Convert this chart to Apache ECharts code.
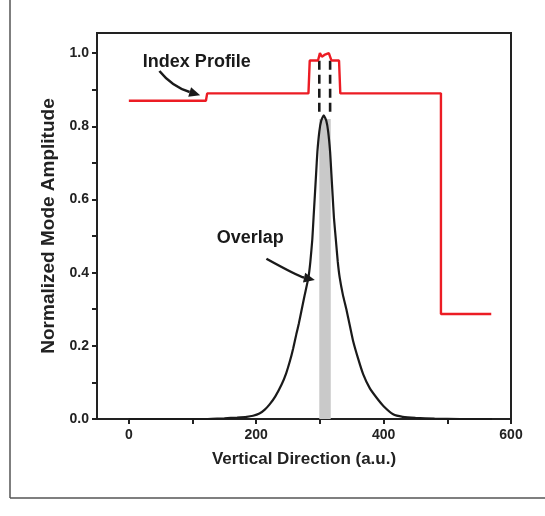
<!DOCTYPE html>
<html><head><meta charset="utf-8">
<script src="https://cdn.jsdelivr.net/npm/echarts@6/dist/echarts.min.js"></script>
<style>html,body{margin:0;padding:0;background:#fff}#c{width:545px;height:516px}</style>
</head><body><div id="c"></div>
<script>
// Index profile (red)
const profileX = [0, 121, 123, 282, 284, 297, 300, 303, 307, 310, 314, 318, 330, 332, 490, 490, 569];
const profileY = [0.87, 0.87, 0.89, 0.89, 0.98, 0.98, 1.0, 0.99, 0.995, 0.99, 1.0, 0.98, 0.98, 0.89, 0.89, 0.287, 0.287];
// Mode amplitude (black)
const modeX = [0, 120, 150, 170, 185, 195, 205, 213, 221, 230, 240, 247, 253, 258, 263, 267, 271, 276, 282, 285, 288, 290, 292, 294, 296, 299, 302, 306,
  310, 313, 316, 318, 320, 322, 325, 328, 331, 336, 342, 347, 352, 360, 368, 378, 389, 400, 415, 430, 450, 480, 520, 570];
const modeY = [0, 0, 0.002, 0.004, 0.006, 0.009, 0.015, 0.025, 0.04, 0.062, 0.095, 0.125, 0.159, 0.193, 0.232, 0.262, 0.296, 0.338, 0.387, 0.43, 0.49, 0.55, 0.61, 0.67, 0.73, 0.785, 0.815, 0.83,
  0.815, 0.785, 0.73, 0.67, 0.61, 0.55, 0.49, 0.43, 0.387, 0.34, 0.296, 0.255, 0.214, 0.165, 0.122, 0.085, 0.058, 0.035, 0.013, 0.006, 0.003, 0.001, 0, 0];
// Dashed continuation near the peak
const dashLeftX = [299, 299];
const dashRightX = [316, 316];
const dashY = [0.84, 0.98];
// Overlap band
const overlapX = [299, 317];
const overlapTop = 0.82;
// Axis ticks / labels
const xTicks = [0, 100, 200, 300, 400, 500, 600];
const xLabels = [0, 200, 400, 600];
const yTicks = [0, 0.1, 0.2, 0.3, 0.4, 0.5, 0.6, 0.7, 0.8, 0.9, 1.0];
const yLabels = [0, 0.2, 0.4, 0.6, 0.8, 1.0];
// Annotations (data coordinates)
const annIndex = {text: 'Index Profile', at: [22, 0.975], arrow: [[48, 0.951], [68, 0.908], [112, 0.885]]};
const annOverlap = {text: 'Overlap', at: [138, 0.495], arrow: [[216, 0.438], [266, 0.39], [292, 0.38]]};

const FONT = '"Liberation Sans", Arial, sans-serif';
const pair = (xs, ys) => xs.map((x, i) => [x, ys[i]]);

const chart = echarts.init(document.getElementById('c'), null, {renderer: 'canvas'});
const option = {
  backgroundColor: '#fff',
  animation: false,
  grid: {left: 97, right: 34, top: 33, bottom: 97, show: true, borderColor: '#222', borderWidth: 2, backgroundColor: 'transparent'},
  xAxis: {
    type: 'value', min: -50, max: 600,
    name: 'Vertical Direction (a.u.)', nameLocation: 'middle', nameGap: 32,
    nameTextStyle: {fontFamily: FONT, fontWeight: 'bold', fontSize: 17, color: '#222'},
    axisLine: {show: true, onZero: false, lineStyle: {color: '#222', width: 2}},
    axisTick: {show: true, inside: false, length: 5, lineStyle: {color: '#222', width: 2}, customValues: xTicks},
    axisLabel: {show: true, margin: 9, fontFamily: FONT, fontWeight: 'bold', fontSize: 14, color: '#222', customValues: xLabels},
    splitLine: {show: false}
  },
  yAxis: {
    type: 'value', min: 0, max: 1.055,
    name: 'Normalized Mode Amplitude', nameLocation: 'middle', nameGap: 33, nameRotate: 90,
    nameTextStyle: {fontFamily: FONT, fontWeight: 'bold', fontSize: 19, color: '#222'},
    axisLine: {show: true, onZero: false, lineStyle: {color: '#222', width: 2}},
    axisTick: {show: true, inside: false, length: 5, lineStyle: {color: '#222', width: 2}, customValues: yTicks},
    axisLabel: {show: true, margin: 8, fontFamily: FONT, fontWeight: 'bold', fontSize: 14, color: '#222', customValues: yLabels,
      formatter: v => Number(v).toFixed(1)},
    splitLine: {show: false}
  },
  series: [
    {type: 'line', name: 'band', data: [], z: 1, silent: true,
      markArea: {silent: true, itemStyle: {color: '#c9c9c9', opacity: 1},
        data: [[{coord: [overlapX[0], 0]}, {coord: [overlapX[1], overlapTop]}]]}},
    {type: 'line', name: 'mode', data: pair(modeX, modeY), showSymbol: false, smooth: 0.15,
      lineStyle: {color: '#1a1a1a', width: 2.2}, z: 3},
    {type: 'line', data: pair(dashLeftX, dashY), showSymbol: false, lineStyle: {color: '#1a1a1a', width: 2.6, type: [9, 5]}, z: 3},
    {type: 'line', data: pair(dashRightX, dashY), showSymbol: false, lineStyle: {color: '#1a1a1a', width: 2.6, type: [9, 5]}, z: 3},
    {type: 'line', name: 'profile', data: pair(profileX, profileY), showSymbol: false,
      lineStyle: {color: '#ec1c24', width: 2.4}, z: 4}
  ]
};
chart.setOption(option);

function px(p) { return chart.convertToPixel({gridIndex: 0}, p); }
function arrow(a, id) {
  const p0 = px(a[0]), p1 = px(a[1]), p2 = px(a[2]);
  const dx = p2[0] - p1[0], dy = p2[1] - p1[1], L = Math.hypot(dx, dy);
  const ux = dx / L, uy = dy / L, hl = 11, hw = 5;
  const bx = p2[0] - ux * hl, by = p2[1] - uy * hl;
  return [
    {type: 'bezierCurve', id: id + 'c', z: 100, shape: {x1: p0[0], y1: p0[1], x2: bx, y2: by, cpx1: p1[0], cpy1: p1[1]},
      style: {stroke: '#1a1a1a', lineWidth: 2.5, fill: null}},
    {type: 'polygon', id: id + 'h', z: 100, shape: {points: [[p2[0], p2[1]], [bx - uy * hw, by + ux * hw], [bx + uy * hw, by - ux * hw]]},
      style: {fill: '#1a1a1a'}}
  ];
}
const ti = px(annIndex.at), to = px(annOverlap.at);
chart.setOption({graphic: [
  {type: 'line', z: 100, shape: {x1: 10, y1: 0, x2: 10, y2: 498}, style: {stroke: '#555', lineWidth: 1.5}},
  {type: 'line', z: 100, shape: {x1: 10, y1: 498, x2: 545, y2: 498}, style: {stroke: '#555', lineWidth: 1.5}},
  {type: 'text', z: 100, x: ti[0], y: ti[1], style: {text: annIndex.text, font: 'bold 18px ' + FONT, fill: '#1a1a1a', verticalAlign: 'middle'}},
  {type: 'text', z: 100, x: to[0], y: to[1], style: {text: annOverlap.text, font: 'bold 18px ' + FONT, fill: '#1a1a1a', verticalAlign: 'middle'}},
  ...arrow(annIndex.arrow, 'a1'),
  ...arrow(annOverlap.arrow, 'a2')
]});
</script>
</body></html>
